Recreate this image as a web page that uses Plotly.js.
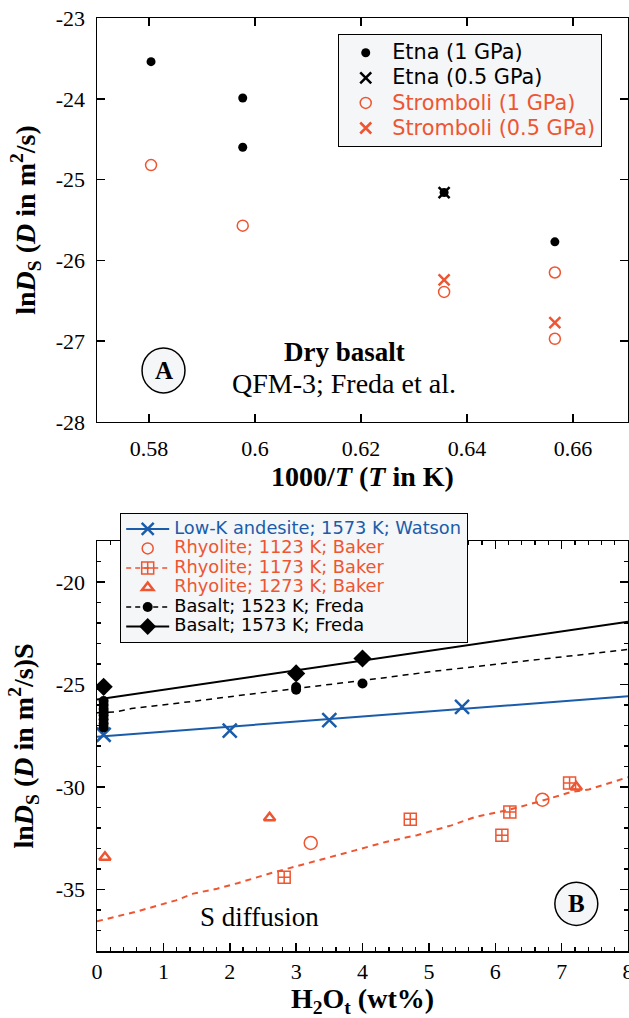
<!DOCTYPE html>
<html>
<head>
<meta charset="utf-8">
<script src="https://cdn.plot.ly/plotly-3.0.1.min.js"></script>
<style>
  html, body { margin: 0; padding: 0; background: #fff; }
  #chart { width: 629px; height: 1018px; }
</style>
</head>
<body>
<div id="chart"></div>
<script>
// ---------- Panel A: dry basalt, ln D_S versus 1000/T ----------
const etna1X = [0.5804, 0.5977, 0.5977, 0.6357, 0.6566];
const etna1Y = [-23.54, -23.99, -24.60, -25.16, -25.77];
const etna05X = [0.6357];
const etna05Y = [-25.16];
const strom1X = [0.5804, 0.5977, 0.6357, 0.6566, 0.6566];
const strom1Y = [-24.82, -25.57, -26.39, -26.15, -26.97];
const strom05X = [0.6357, 0.6566];
const strom05Y = [-26.24, -26.77];

const aXTickVals = [0.58, 0.60, 0.62, 0.64, 0.66];
const aXTickText = ['0.58', '0.6', '0.62', '0.64', '0.66'];
const aYTickVals = [-28, -27, -26, -25, -24, -23];
const aYTickText = ['-28', '-27', '-26', '-25', '-24', '-23'];

// ---------- Panel B: ln D_S versus total water ----------
const andesiteX = [0.1, 2.0, 3.5, 5.5];
const andesiteY = [-27.45, -27.25, -26.74, -26.09];
const andesiteFitX = [0, 8];
const andesiteFitY = [-27.55, -25.57];

const rhy1123X = [3.22, 6.71];
const rhy1123Y = [-32.73, -30.62];

const rhy1173X = [2.82, 4.72, 6.10, 6.22, 7.12];
const rhy1173Y = [-34.40, -31.57, -32.35, -31.22, -29.80];
const rhy1173CurveX = [0, 0.57, 1.19, 1.45, 1.81, 2.13, 2.59, 3.01, 3.42, 3.89, 4.35, 4.82, 5.34, 5.70, 6.22, 6.64, 7.15, 7.41, 8.0];
const rhy1173CurveY = [-36.55, -36.10, -35.53, -35.20, -34.96, -34.68, -34.23, -33.87, -33.49, -33.09, -32.68, -32.35, -31.87, -31.46, -31.10, -30.73, -30.24, -30.12, -29.52];

const rhy1273X = [0.12, 2.6, 7.22];
const rhy1273Y = [-33.43, -31.50, -30.00];

const bas1523X = [0.1, 0.1, 0.1, 0.1, 0.1, 0.1, 0.1, 0.1, 3.0, 3.0, 4.0];
const bas1523Y = [-25.80, -26.00, -26.20, -26.35, -26.50, -26.70, -26.90, -27.10, -25.12, -25.25, -24.95];
const bas1523CurveX = [0, 0.3, 0.52, 1.5, 3.0, 4.04, 5.08, 6.11, 7.0, 8.0];
const bas1523CurveY = [-26.38, -26.33, -26.17, -25.80, -25.19, -24.79, -24.35, -23.97, -23.65, -23.29];

const bas1573X = [0.1, 3.0, 4.0];
const bas1573Y = [-25.11, -24.46, -23.73];
const bas1573FitX = [0, 8];
const bas1573FitY = [-25.73, -21.94];

const bXTickVals = [0, 1, 2, 3, 4, 5, 6, 7, 8];
const bXTickText = ['0', '1', '2', '3', '4', '5', '6', '7', '8'];
const bYTickVals = [-35, -30, -25, -20];
const bYTickText = ['-35', '-30', '-25', '-20'];

// ---------- styling ----------
const RED = '#ee5530';
const BLUE = '#1a5caa';
const SERIF = 'Liberation Serif';
const SANS = 'DejaVu Sans';
const LEGEND_BG = '#f4f6f8';

// legend label with its own colour and glyph size
function label(text, color, px) {
  const style = (color ? 'color:' + color + ';' : '') + 'font-size:' + px + 'px';
  return '<span style="' + style + '">' + text + '</span>';
}
const A_LEG_PX = 20.8;
const B_LEG_PX = 17.8;

const traces = [
  // Panel A
  { x: etna1X, y: etna1Y, xaxis: 'x', yaxis: 'y', mode: 'markers', name: label('Etna (1 GPa)', null, A_LEG_PX),
    marker: { symbol: 'circle', size: 9, color: '#000' } },
  { x: etna05X, y: etna05Y, xaxis: 'x', yaxis: 'y', mode: 'markers', name: label('Etna (0.5 GPa)', null, A_LEG_PX),
    marker: { symbol: 'x-thin-open', size: 11, color: '#000', line: { width: 2.5, color: '#000' } } },
  { x: strom1X, y: strom1Y, xaxis: 'x', yaxis: 'y', mode: 'markers', name: label('Stromboli (1 GPa)', RED, A_LEG_PX),
    marker: { symbol: 'circle-open', size: 11, color: RED, line: { width: 1.5, color: RED } } },
  { x: strom05X, y: strom05Y, xaxis: 'x', yaxis: 'y', mode: 'markers', name: label('Stromboli (0.5 GPa)', RED, A_LEG_PX),
    marker: { symbol: 'x-thin-open', size: 11, color: RED, line: { width: 2.5, color: RED } } },

  // Panel B: fitted / smoothed curves
  { x: andesiteFitX, y: andesiteFitY, xaxis: 'x2', yaxis: 'y2', mode: 'lines', showlegend: false,
    line: { color: BLUE, width: 2 } },
  { x: rhy1173CurveX, y: rhy1173CurveY, xaxis: 'x2', yaxis: 'y2', mode: 'lines', showlegend: false,
    line: { color: RED, width: 2, dash: '6px,5px' } },
  { x: bas1523CurveX, y: bas1523CurveY, xaxis: 'x2', yaxis: 'y2', mode: 'lines', showlegend: false,
    line: { color: '#000', width: 1.5, dash: '6px,5px' } },
  { x: bas1573FitX, y: bas1573FitY, xaxis: 'x2', yaxis: 'y2', mode: 'lines', showlegend: false,
    line: { color: '#000', width: 2 } },

  // Panel B: measured points
  { x: andesiteX, y: andesiteY, xaxis: 'x2', yaxis: 'y2', mode: 'markers', showlegend: false,
    marker: { symbol: 'x-thin-open', size: 14, color: BLUE, line: { width: 2.5, color: BLUE } } },
  { x: rhy1123X, y: rhy1123Y, xaxis: 'x2', yaxis: 'y2', mode: 'markers', showlegend: false,
    marker: { symbol: 'circle-open', size: 13, color: RED, line: { width: 1.5, color: RED } } },
  { x: rhy1173X, y: rhy1173Y, xaxis: 'x2', yaxis: 'y2', mode: 'markers', showlegend: false,
    marker: { symbol: 'square-cross-open', size: 12, color: RED, line: { width: 1.5, color: RED } } },
  { x: rhy1273X, y: rhy1273Y, xaxis: 'x2', yaxis: 'y2', mode: 'markers', showlegend: false,
    marker: { symbol: 'triangle-up-open', size: 10, color: RED, line: { width: 2.5, color: RED } } },
  { x: bas1523X, y: bas1523Y, xaxis: 'x2', yaxis: 'y2', mode: 'markers', showlegend: false,
    marker: { symbol: 'circle', size: 10, color: '#000' } },
  { x: bas1573X, y: bas1573Y, xaxis: 'x2', yaxis: 'y2', mode: 'markers', showlegend: false,
    marker: { symbol: 'diamond', size: 14, color: '#000' } },

  // Panel B legend entries (symbol + line style)
  { x: [null], y: [null], xaxis: 'x2', yaxis: 'y2', mode: 'lines+markers', legend: 'legend2',
    name: label('Low-K andesite; 1573 K; Watson', BLUE, B_LEG_PX),
    line: { color: BLUE, width: 2 },
    marker: { symbol: 'x-thin-open', size: 12, color: BLUE, line: { width: 2.5, color: BLUE } } },
  { x: [null], y: [null], xaxis: 'x2', yaxis: 'y2', mode: 'markers', legend: 'legend2',
    name: label('Rhyolite; 1123 K; Baker', RED, B_LEG_PX),
    marker: { symbol: 'circle-open', size: 11, color: RED, line: { width: 1.5, color: RED } } },
  { x: [null], y: [null], xaxis: 'x2', yaxis: 'y2', mode: 'lines+markers', legend: 'legend2',
    name: label('Rhyolite; 1173 K; Baker', RED, B_LEG_PX),
    line: { color: RED, width: 1.5, dash: '5px,4px' },
    marker: { symbol: 'square-cross-open', size: 12, color: RED, line: { width: 1.5, color: RED } } },
  { x: [null], y: [null], xaxis: 'x2', yaxis: 'y2', mode: 'markers', legend: 'legend2',
    name: label('Rhyolite; 1273 K; Baker', RED, B_LEG_PX),
    marker: { symbol: 'triangle-up-open', size: 10, color: RED, line: { width: 2.5, color: RED } } },
  { x: [null], y: [null], xaxis: 'x2', yaxis: 'y2', mode: 'lines+markers', legend: 'legend2',
    name: label('Basalt; 1523 K; Freda', null, B_LEG_PX),
    line: { color: '#000', width: 1.5, dash: '5px,4px' },
    marker: { symbol: 'circle', size: 10, color: '#000' } },
  { x: [null], y: [null], xaxis: 'x2', yaxis: 'y2', mode: 'lines+markers', legend: 'legend2',
    name: label('Basalt; 1573 K; Freda', null, B_LEG_PX),
    line: { color: '#000', width: 2 },
    marker: { symbol: 'diamond', size: 13, color: '#000' } }
];

const axisCommon = {
  showline: true, linewidth: 1.5, linecolor: '#000', mirror: 'ticks',
  ticks: 'inside', ticklen: 8, tickwidth: 1.5, tickcolor: '#000',
  showgrid: false, zeroline: false, ticklabeloverflow: 'allow',
  tickfont: { family: SERIF, size: 22, color: '#000' }
};
const titleFont = { family: SERIF, size: 28, color: '#000' };

const layout = {
  width: 629, height: 1018,
  margin: { l: 97, r: 1, t: 18, b: 67 },
  paper_bgcolor: '#fff', plot_bgcolor: '#fff',
  font: { family: SERIF, size: 22, color: '#000' },
  xaxis: Object.assign({}, axisCommon, {
    anchor: 'y', domain: [0, 1], range: [0.5702, 0.6704],
    tickmode: 'array', tickvals: aXTickVals, ticktext: aXTickText,
    ticklabelstandoff: 6,
    title: { text: '<b>1000/<i>T</i> (<i>T</i> in K)</b>', font: titleFont, standoff: 4 }
  }),
  yaxis: Object.assign({}, axisCommon, {
    anchor: 'x', domain: [0.567, 1], range: [-28, -23],
    tickmode: 'array', tickvals: aYTickVals, ticktext: aYTickText,
    ticklabelstandoff: 6,
    title: { text: '<b>ln<i>D</i><sub>S</sub> (<i>D</i> in m<sup>2</sup>/s)</b>', font: titleFont, standoff: 12 }
  }),
  xaxis2: Object.assign({}, axisCommon, {
    anchor: 'y2', domain: [0, 1], range: [0, 8],
    tickmode: 'array', tickvals: bXTickVals, ticktext: bXTickText,
    ticklabelstandoff: 0,
    minor: { dtick: 0.2, ticks: 'inside', ticklen: 4, tickwidth: 1.2, tickcolor: '#000' },
    title: { text: '<b>H<sub>2</sub>O<sub>t</sub> (wt%)</b>', font: titleFont, standoff: 16 }
  }),
  yaxis2: Object.assign({}, axisCommon, {
    anchor: 'x2', domain: [0, 0.4394], range: [-38, -18],
    tickmode: 'array', tickvals: bYTickVals, ticktext: bYTickText,
    ticklabelstandoff: 6,
    minor: { dtick: 1, ticks: 'inside', ticklen: 4, tickwidth: 1.2, tickcolor: '#000' },
    title: { text: '<b>ln<i>D</i><sub>S</sub> (<i>D</i> in m<sup>2</sup>/s)S</b>', font: titleFont, standoff: 14 }
  }),
  legend: {
    x: 0.4539, y: 0.9829, xanchor: 'left', yanchor: 'top',
    bgcolor: LEGEND_BG, bordercolor: '#000', borderwidth: 1.2,
    font: { family: SANS, size: 17, color: '#000' },
    itemwidth: 43, tracegroupgap: 0
  },
  legend2: {
    x: 0.0433, y: 0.4695, xanchor: 'left', yanchor: 'top',
    bgcolor: LEGEND_BG, bordercolor: '#000', borderwidth: 1.2,
    font: { family: SANS, size: 12.7, color: '#000' },
    itemwidth: 43, tracegroupgap: 0
  },
  shapes: [
    { type: 'circle', xref: 'x', yref: 'y', x0: 0.5787, x1: 0.5868, y0: -27.64, y1: -27.084,
      fillcolor: LEGEND_BG, line: { color: '#000', width: 1.5 }, layer: 'above' },
    { type: 'circle', xref: 'x2', yref: 'y2', x0: 6.898, x1: 7.545, y0: -36.75, y1: -34.65,
      fillcolor: LEGEND_BG, line: { color: '#000', width: 1.5 }, layer: 'above' }
  ],
  annotations: [
    { xref: 'x', yref: 'y', x: 0.58275, y: -27.36, text: '<b>A</b>', showarrow: false,
      font: { family: SERIF, size: 25, color: '#000' } },
    { xref: 'x', yref: 'y', x: 0.6169, y: -27.13, text: '<b>Dry basalt</b>', showarrow: false,
      font: { family: SERIF, size: 27, color: '#000' } },
    { xref: 'x', yref: 'y', x: 0.6169, y: -27.52, text: 'QFM-3; Freda et al.', showarrow: false,
      font: { family: SERIF, size: 28, color: '#000' } },
    { xref: 'x2', yref: 'y2', x: 7.22, y: -35.7, text: '<b>B</b>', showarrow: false,
      font: { family: SERIF, size: 25, color: '#000' } },
    { xref: 'x2', yref: 'y2', x: 2.455, y: -36.36, text: 'S diffusion', showarrow: false,
      font: { family: SERIF, size: 27, color: '#000' } }
  ]
};

Plotly.newPlot('chart', traces, layout, { displayModeBar: false, staticPlot: true });
</script>
</body>
</html>
